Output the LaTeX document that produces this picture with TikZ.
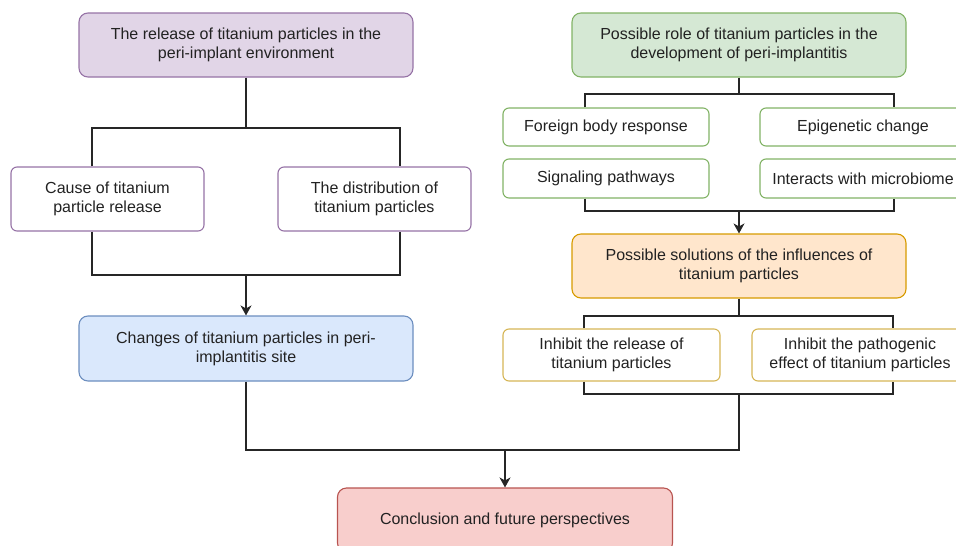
\documentclass[tikz,border=0pt]{standalone}
\usepackage{fontspec}
\setmainfont{Liberation Sans}
\usetikzlibrary{arrows.meta}
\definecolor{pfill}{HTML}{E1D5E7}\definecolor{pline}{HTML}{9673A6}
\definecolor{gfill}{HTML}{D5E8D4}\definecolor{gline}{HTML}{82B366}
\definecolor{bfill}{HTML}{DAE8FC}\definecolor{bline}{HTML}{6C8EBF}
\definecolor{ofill}{HTML}{FFE6CC}\definecolor{oline}{HTML}{D79B00}
\definecolor{rfill}{HTML}{F8CECC}\definecolor{rline}{HTML}{B85450}
\definecolor{yline}{HTML}{D6B656}
\definecolor{txt}{HTML}{222222}
\definecolor{conn}{HTML}{262626}
\begin{document}
\begin{tikzpicture}[x=1pt,y=-1pt,
  box/.style={draw, line width=1.1pt, rounded corners=9pt, align=center,
    font=\fontsize{16}{19}\selectfont, text=txt, inner sep=0pt},
  bigbox/.style={box, minimum width=334pt, minimum height=64pt},
  smallbox/.style={box, rounded corners=6pt, fill=white},
  wire/.style={draw=conn, line width=1.2pt},
  arr/.style={wire, -{Stealth[length=10pt,width=11pt,inset=3pt]}}]
\clip (0,0) rectangle (956,546);
\useasboundingbox (0,0) rectangle (956,546);
% left column
\node[bigbox, fill=pfill, draw=pline] (rel) at (246,45) {The release of titanium particles in the\\peri-implant environment};
\node[smallbox, draw=pline, minimum width=193pt, minimum height=64pt] (cause) at (107.5,199) {Cause of titanium\\particle release};
\node[smallbox, draw=pline, minimum width=193pt, minimum height=64pt] (dist) at (374.5,199) {The distribution of\\titanium particles};
\node[bigbox, fill=bfill, draw=bline, minimum height=65pt] (chg) at (246,348.5) {Changes of titanium particles in peri-\\implantitis site};
\node[bigbox, fill=rfill, draw=rline, minimum width=335pt] (concl) at (505,520) {Conclusion and future perspectives};
% right column
\node[bigbox, fill=gfill, draw=gline] (role) at (739,45) {Possible role of titanium particles in the\\development of peri-implantitis};
\node[smallbox, draw=gline, minimum width=206pt, minimum height=38pt] (fbr) at (606,127) {Foreign body response};
\node[smallbox, draw=gline, minimum width=206pt, minimum height=38pt] (epi) at (863,127) {Epigenetic change};
\node[smallbox, draw=gline, minimum width=206pt, minimum height=39pt] (sig) at (606,178.5) {Signaling pathways};
\node[smallbox, draw=gline, minimum width=206pt, minimum height=39pt] (mic) at (863,178.5) {Interacts with microbiome};
\node[bigbox, fill=ofill, draw=oline] (sol) at (739,266) {Possible solutions of the influences of\\titanium particles};
\node[smallbox, draw=yline, minimum width=217pt, minimum height=52pt] (inr) at (611.5,355) {Inhibit the release of\\titanium particles};
\node[smallbox, draw=yline, minimum width=216pt, minimum height=52pt] (inp) at (860,355) {Inhibit the pathogenic\\effect of titanium particles};
% column x coordinates
\coordinate (xl1) at (92,0);  \coordinate (xl2) at (400,0);
\coordinate (xr1) at (585,0); \coordinate (xr2) at (894,0);
\coordinate (xs1) at (584,0); \coordinate (xs2) at (893,0);
% junctions
\coordinate (j1) at (246,128);
\coordinate (j2) at (246,275);
\coordinate (j3) at (739,94);
\coordinate (j4) at (739,211);
\coordinate (j5) at (739,316);
\coordinate (j6) at (739,394);
\coordinate (j7) at (505,450);
% left connectors
\draw[wire] (rel.south) -- (j1);
\draw[wire] (cause.north -| xl1) |- (j1) -| (dist.north -| xl2);
\draw[wire] (cause.south -| xl1) |- (j2) -| (dist.south -| xl2);
\draw[arr] (j2) -- (chg.north);
% right connectors
\draw[wire] (role.south) -- (j3);
\draw[wire] (fbr.north -| xr1) |- (j3) -| (epi.north -| xr2);
\draw[wire] (sig.south -| xr1) |- (j4) -| (mic.south -| xr2);
\draw[arr] (j4) -- (sol.north);
\draw[wire] (sol.south) -- (j5);
\draw[wire] (inr.north -| xs1) |- (j5) -| (inp.north -| xs2);
\draw[wire] (inr.south -| xs1) |- (j6) -| (inp.south -| xs2);
% to conclusion
\draw[wire] (chg.south) |- (j7) -| (j6);
\draw[arr] (j7) -- (concl.north);
\end{tikzpicture}
\end{document}
